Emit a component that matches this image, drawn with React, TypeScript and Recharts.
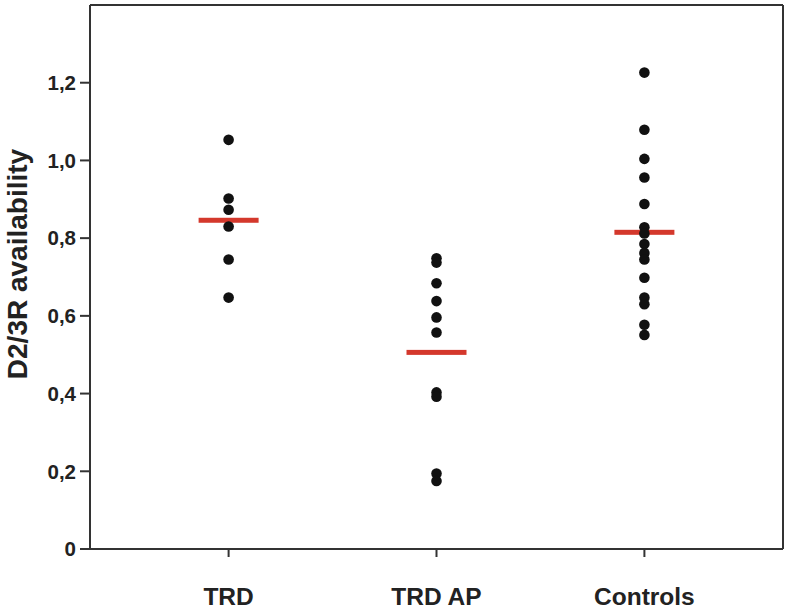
import { ReferenceLine, Scatter, ScatterChart, XAxis, YAxis } from "recharts";

const groups = ["TRD", "TRD AP", "Controls"];

const trdValues = [1.053, 0.902, 0.873, 0.83, 0.745, 0.647];
const trdApValues = [0.748, 0.737, 0.684, 0.638, 0.596, 0.557, 0.403, 0.392, 0.194, 0.175];
const controlValues = [
  1.226, 1.079, 1.004, 0.956, 0.888, 0.828, 0.812, 0.785, 0.762, 0.745, 0.698, 0.647, 0.63, 0.577, 0.551,
];
const groupMeans = [0.846, 0.506, 0.815];

const yTicks = [0, 0.2, 0.4, 0.6, 0.8, 1.0, 1.2];
const Y_MAX = 1.4;
const X_MIN = 1 / 3;
const X_MAX = 11 / 3;

const points = [trdValues, trdApValues, controlValues].flatMap((vals, i) =>
  vals.map((v) => ({ x: i + 1, y: v }))
);
const means = groupMeans.map((m, i) => ({ x: i + 1, y: m }));

const FONT = "'Liberation Sans', Arial, sans-serif";
const AXIS = "#333";

const fmt = (v: number) => (v === 0 ? "0" : v.toFixed(1).replace(".", ","));

const Dot = (p: any) => <circle cx={p.cx} cy={p.cy} r={5.3} fill="#111" />;
const MeanBar = (p: any) => <rect x={p.cx - 30} y={p.cy - 2.5} width={60} height={5} fill="#d4382c" />;

const YLabel = (p: any) => {
  const vb = p.viewBox;
  const cy = vb.y + vb.height / 2 - 13;
  return (
    <text
      x={27}
      y={cy}
      transform={`rotate(-90, 27, ${cy})`}
      textAnchor="middle"
      fontFamily={FONT}
      fontWeight="bold"
      fontSize={28}
      fill="#222"
    >
      D2/3R availability
    </text>
  );
};

export default function App() {
  return (
    <div style={{ position: "absolute", left: 0, top: 0, background: "#fff" }}>
      <ScatterChart width={789} height={613} margin={{ top: 5, right: 6, bottom: 0, left: 0 }}>
        <XAxis
          type="number"
          dataKey="x"
          domain={[X_MIN, X_MAX]}
          ticks={[1, 2, 3]}
          tickFormatter={(v: number) => groups[v - 1]}
          height={64}
          tickSize={8}
          tickMargin={31}
          allowDataOverflow
          stroke={AXIS}
          strokeWidth={2}
          tick={{ fontFamily: FONT, fontWeight: "bold", fontSize: 24.5, fill: "#222" }}
        />
        <YAxis
          type="number"
          dataKey="y"
          domain={[0, Y_MAX]}
          ticks={yTicks}
          tickFormatter={fmt}
          width={90}
          tickSize={10}
          tickMargin={4}
          allowDataOverflow
          stroke={AXIS}
          strokeWidth={2}
          tick={{ fontFamily: FONT, fontWeight: "bold", fontSize: 20.5, fill: "#222" }}
          label={{ content: YLabel }}
        />
        <ReferenceLine y={Y_MAX} stroke={AXIS} strokeWidth={2} ifOverflow="visible" />
        <ReferenceLine x={X_MAX} stroke={AXIS} strokeWidth={2} ifOverflow="visible" />
        <Scatter data={means} shape={MeanBar} isAnimationActive={false} />
        <Scatter data={points} shape={Dot} isAnimationActive={false} />
      </ScatterChart>
    </div>
  );
}
